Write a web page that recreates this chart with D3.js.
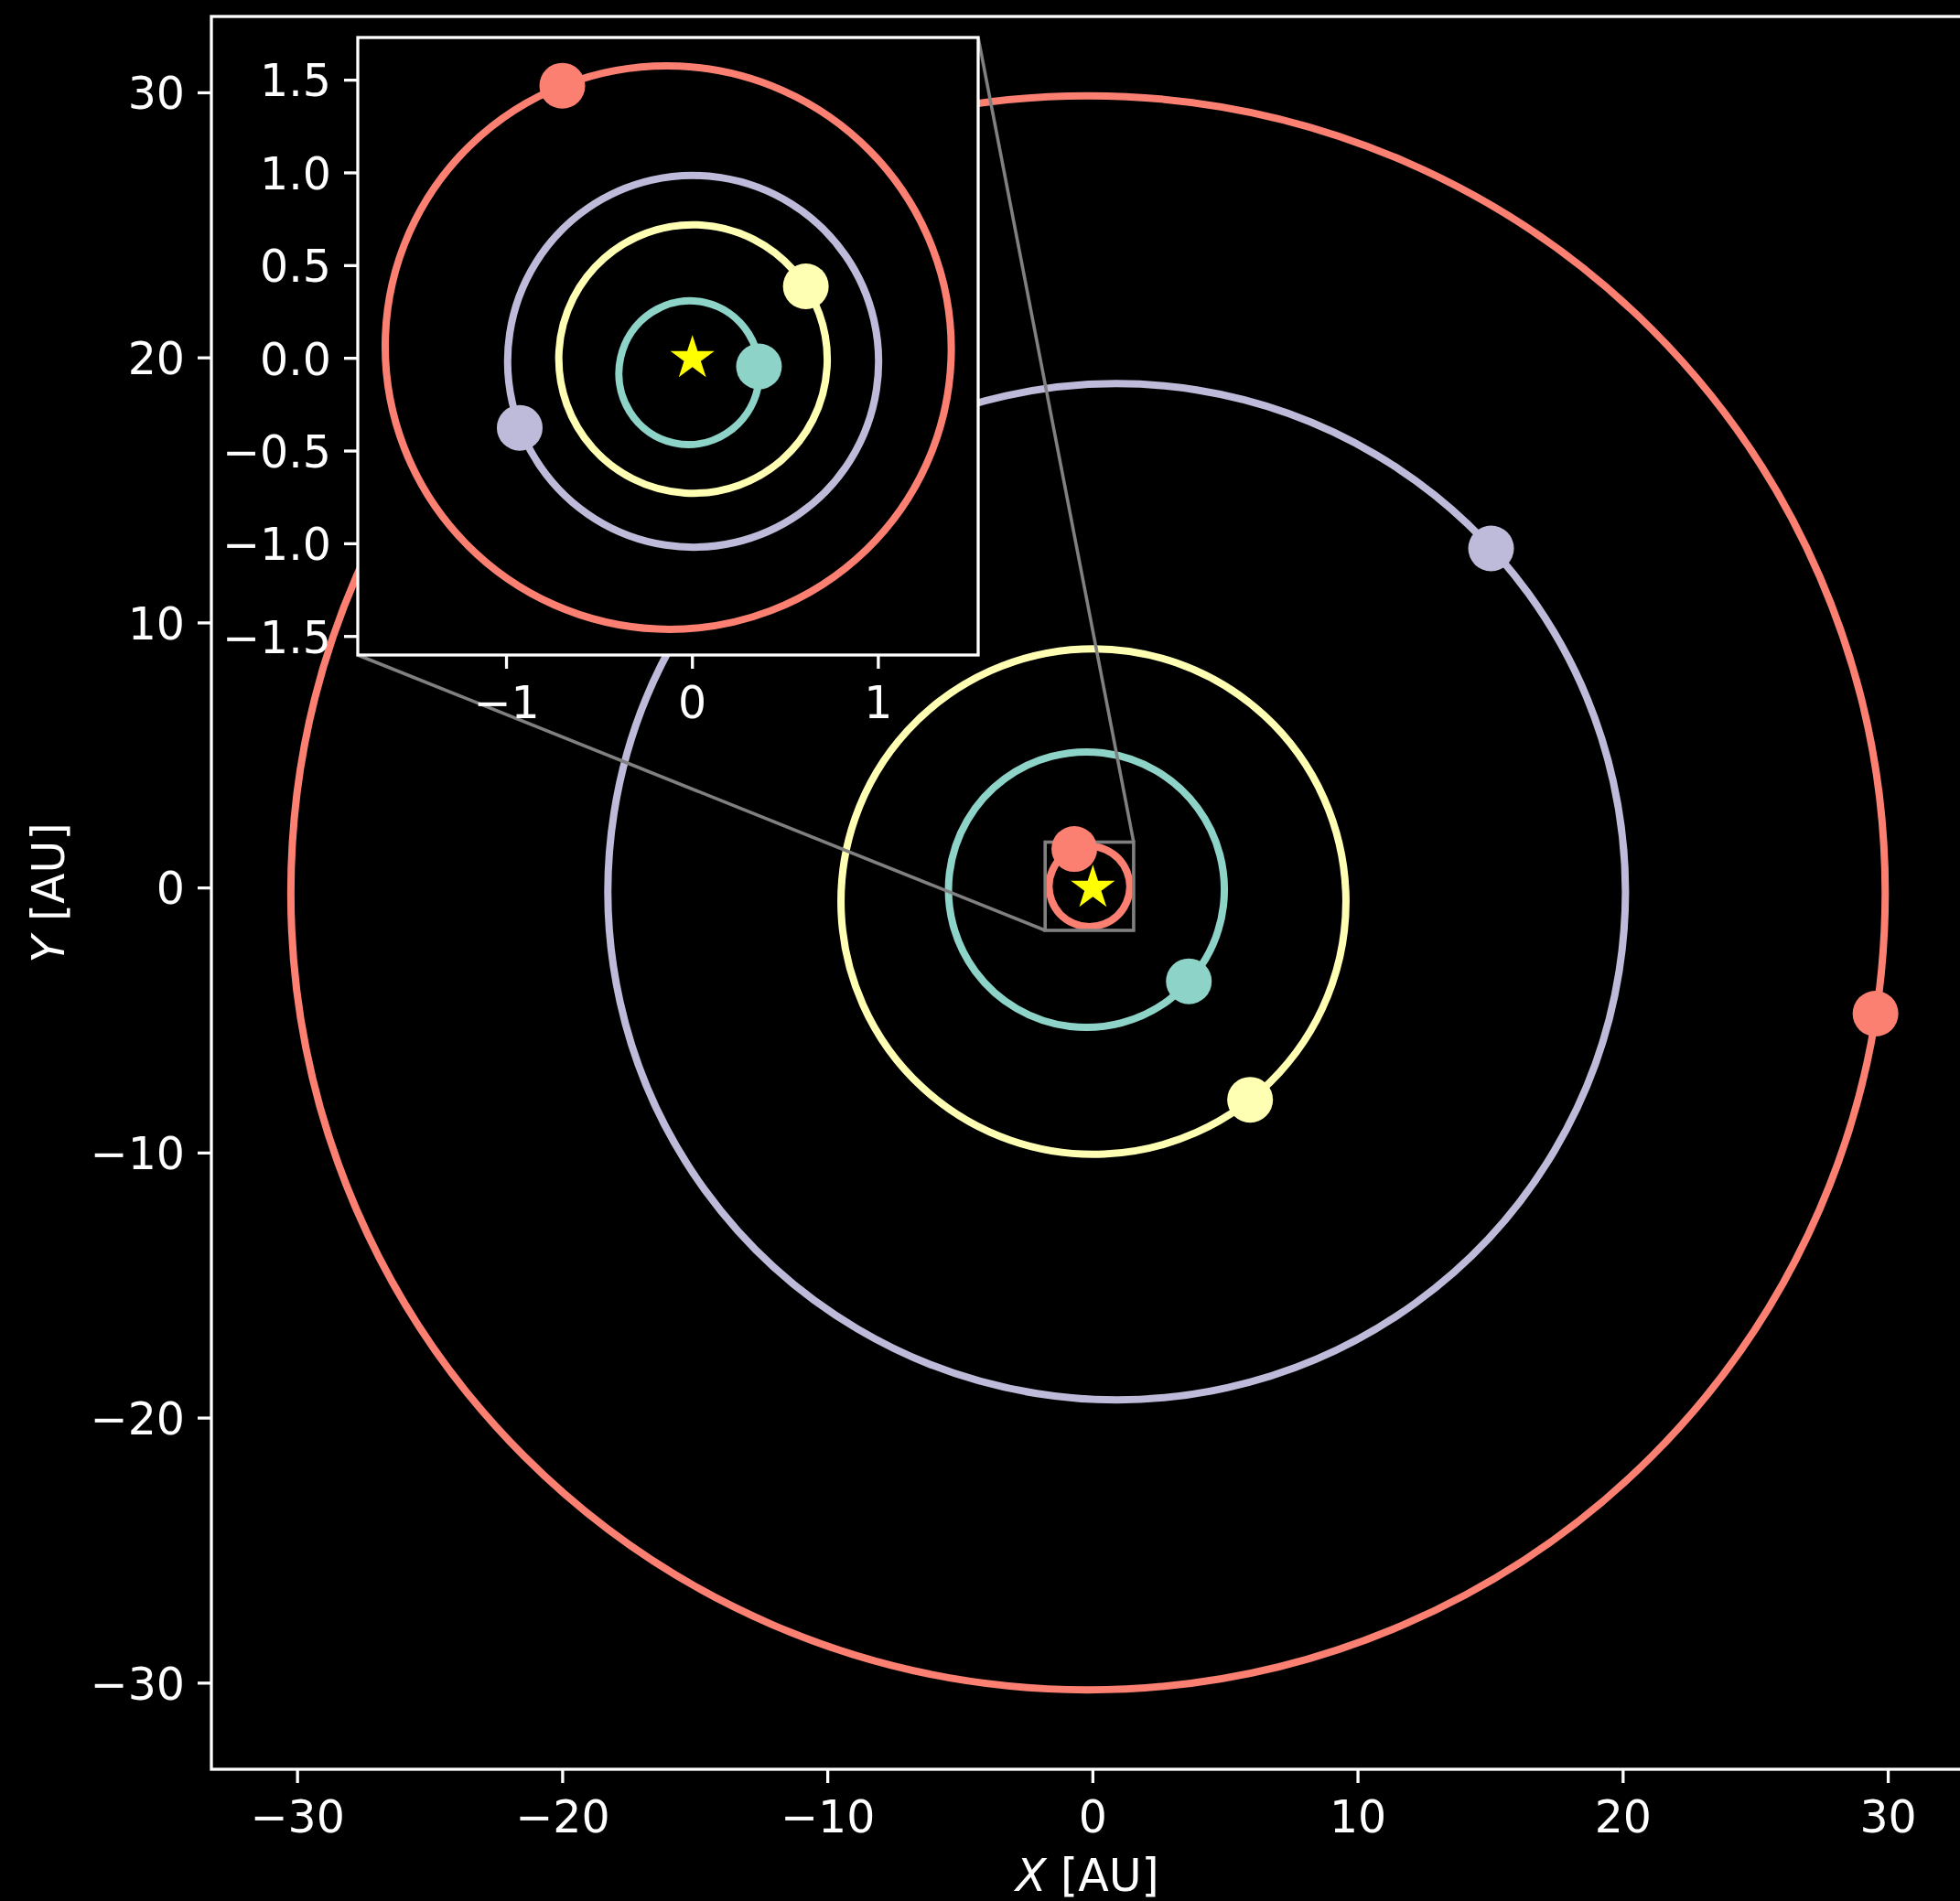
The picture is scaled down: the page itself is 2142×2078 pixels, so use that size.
<!DOCTYPE html>
<html>
<head>
<meta charset="utf-8">
<script src="https://cdn.jsdelivr.net/npm/d3@7"></script>
<style>
  body { margin: 0; background: #000; }
  svg { display: block; }
  text { font-family: "DejaVu Sans", sans-serif; fill: #fff; }
</style>
</head>
<body>
<svg id="chart" width="2142" height="2078"></svg>
<script>
// Orbital elements (2D, ecliptic plane) and current planet positions [AU]
const bodyNames     = ["Mercury", "Venus", "Earth", "Mars", "Jupiter", "Saturn", "Uranus", "Neptune"];
const semiMajor     = [0.387, 0.723, 1.000, 1.524, 5.203, 9.537, 19.19, 30.07];
const eccentricity  = [0.2056, 0.0068, 0.0167, 0.0934, 0.0484, 0.0539, 0.0473, 0.0086];
const perihelionLon = [77.46, 131.53, 102.94, 336.04, 14.75, 92.43, 170.96, 44.97]; // degrees
const planetX       = [0.358, 0.610, -0.929, -0.70, 3.62, 5.93, 15.02, 29.52];
const planetY       = [-0.044, 0.388, -0.375, 1.47, -3.52, -7.99, 12.81, -4.74];
const orbitColors   = ["#8dd3c7", "#ffffb3", "#bebada", "#fb8072", "#8dd3c7", "#ffffb3", "#bebada", "#fb8072"];

const innerBodies = [0, 1, 2, 3];
const outerBodies = [3, 4, 5, 6, 7];

// Axis ranges and ticks
const mainDomain    = [-33.25, 32.88];
const mainTicks     = [-30, -20, -10, 0, 10, 20, 30];
const insetXDomain  = [-1.80, 1.537];
const insetYDomain  = [-1.60, 1.73];
const insetXTicks   = [-1, 0, 1];
const insetYTicks   = [-1.5, -1.0, -0.5, 0.0, 0.5, 1.0, 1.5];

const svg = d3.select("#chart");
const FONT = 49;
const TICK = 15;
const SPINE = 3.3;
const ORBIT_W = 8;
const DOT_R = 25;
const starSize = 720;

svg.append("rect").attr("width", 2142).attr("height", 2078).attr("fill", "#000");

const defs = svg.append("defs");

// Main axes box
const M = { left: 231, top: 18, size: 1916 };
const mx = d3.scaleLinear().domain(mainDomain).range([M.left, M.left + M.size]);
const my = d3.scaleLinear().domain(mainDomain).range([M.top + M.size, M.top]);

// Inset axes box
const I = { left: 391, top: 41, right: 1069, bottom: 716 };
const ix = d3.scaleLinear().domain(insetXDomain).range([I.left, I.right]);
const iy = d3.scaleLinear().domain(insetYDomain).range([I.bottom, I.top]);

defs.append("clipPath").attr("id", "clipMain").append("rect")
  .attr("x", M.left).attr("y", M.top).attr("width", M.size).attr("height", M.size);
defs.append("clipPath").attr("id", "clipInset").append("rect")
  .attr("x", I.left).attr("y", I.top).attr("width", I.right - I.left).attr("height", I.bottom - I.top);

const fmt = v => {
  const s = (Math.abs(v) < 1e-9 ? 0 : v);
  return s < 0 ? "\u2212" + String(Math.abs(s)) : String(s);
};
const fmt1 = v => {
  const s = (Math.abs(v) < 1e-9 ? 0 : v);
  return s < 0 ? "\u2212" + Math.abs(s).toFixed(1) : s.toFixed(1);
};

// Orbit ellipse with the Sun at one focus
function drawOrbits(g, ids, xs, ys) {
  const kx = xs(1) - xs(0), ky = ys(0) - ys(1);
  g.selectAll(null).data(ids).enter().append("ellipse")
    .each(function (i) {
      const a = semiMajor[i], e = eccentricity[i], w = perihelionLon[i] * Math.PI / 180;
      const cx = xs(-a * e * Math.cos(w)), cy = ys(-a * e * Math.sin(w));
      d3.select(this)
        .attr("cx", cx).attr("cy", cy)
        .attr("rx", a * kx).attr("ry", a * Math.sqrt(1 - e * e) * ky)
        .attr("transform", `rotate(${-perihelionLon[i]},${cx},${cy})`);
    })
    .attr("fill", "none")
    .attr("stroke", i => orbitColors[i])
    .attr("stroke-width", ORBIT_W);
}
function drawPlanets(g, ids, xs, ys) {
  g.selectAll(null).data(ids).enter().append("circle")
    .attr("cx", i => xs(planetX[i])).attr("cy", i => ys(planetY[i]))
    .attr("r", DOT_R).attr("fill", i => orbitColors[i]);
}
function drawSun(g, xs, ys) {
  g.append("path")
    .attr("d", d3.symbol(d3.symbolStar, starSize)())
    .attr("transform", `translate(${xs(0)},${ys(0)})`)
    .attr("fill", "#ffff00");
}

// ---- Main axes ----
const mainG = svg.append("g").attr("clip-path", "url(#clipMain)");
drawOrbits(mainG, outerBodies, mx, my);

// zoom indicator rectangle and connectors
const zoomRect = { x0: insetXDomain[0], x1: insetXDomain[1], y0: insetYDomain[0], y1: insetYDomain[1] };
mainG.append("rect")
  .attr("x", mx(zoomRect.x0)).attr("y", my(zoomRect.y1))
  .attr("width", mx(zoomRect.x1) - mx(zoomRect.x0))
  .attr("height", my(zoomRect.y0) - my(zoomRect.y1))
  .attr("fill", "none").attr("stroke", "#808080").attr("stroke-width", 3.6);
mainG.append("line")
  .attr("x1", I.left).attr("y1", I.bottom)
  .attr("x2", mx(zoomRect.x0)).attr("y2", my(zoomRect.y0))
  .attr("stroke", "#808080").attr("stroke-width", 3.6);
mainG.append("line")
  .attr("x1", I.right).attr("y1", I.top)
  .attr("x2", mx(zoomRect.x1)).attr("y2", my(zoomRect.y1))
  .attr("stroke", "#808080").attr("stroke-width", 3.6);

drawPlanets(mainG, outerBodies, mx, my);
drawSun(mainG, mx, my);

// spines
const spines = svg.append("g").attr("stroke", "#fff").attr("stroke-width", SPINE).attr("fill", "none");
spines.append("rect").attr("x", M.left).attr("y", M.top).attr("width", M.size).attr("height", M.size);

// main ticks and labels
const mxt = svg.append("g");
mainTicks.forEach(t => {
  mxt.append("line").attr("x1", mx(t)).attr("x2", mx(t))
    .attr("y1", M.top + M.size).attr("y2", M.top + M.size + TICK)
    .attr("stroke", "#fff").attr("stroke-width", SPINE);
  mxt.append("text").attr("x", mx(t)).attr("y", 2003)
    .attr("text-anchor", "middle").attr("font-size", FONT).text(fmt(t));
  mxt.append("line").attr("y1", my(t)).attr("y2", my(t))
    .attr("x1", M.left - TICK).attr("x2", M.left)
    .attr("stroke", "#fff").attr("stroke-width", SPINE);
  mxt.append("text").attr("x", M.left - TICK - 14).attr("y", my(t) + FONT * 0.364)
    .attr("text-anchor", "end").attr("font-size", FONT).text(fmt(t));
});

// axis titles
const xl = svg.append("text").attr("x", mx(0) - 6).attr("y", 2067)
  .attr("text-anchor", "middle").attr("font-size", FONT);
xl.append("tspan").attr("font-style", "italic").text("X");
xl.append("tspan").text(" [AU]");
const yl = svg.append("text").attr("transform", `translate(70,${(M.top + M.top + M.size) / 2}) rotate(-90)`)
  .attr("text-anchor", "middle").attr("font-size", FONT);
yl.append("tspan").attr("font-style", "italic").text("Y");
yl.append("tspan").text(" [AU]");

// ---- Inset axes ----
svg.append("rect").attr("x", I.left).attr("y", I.top)
  .attr("width", I.right - I.left).attr("height", I.bottom - I.top).attr("fill", "#000");
const insetG = svg.append("g").attr("clip-path", "url(#clipInset)");
drawOrbits(insetG, innerBodies, ix, iy);
drawPlanets(insetG, innerBodies, ix, iy);
drawSun(insetG, ix, iy);

svg.append("rect").attr("x", I.left).attr("y", I.top)
  .attr("width", I.right - I.left).attr("height", I.bottom - I.top)
  .attr("fill", "none").attr("stroke", "#fff").attr("stroke-width", SPINE);

const it = svg.append("g");
insetXTicks.forEach(t => {
  it.append("line").attr("x1", ix(t)).attr("x2", ix(t))
    .attr("y1", I.bottom).attr("y2", I.bottom + TICK)
    .attr("stroke", "#fff").attr("stroke-width", SPINE);
  it.append("text").attr("x", ix(t)).attr("y", I.bottom + 69)
    .attr("text-anchor", "middle").attr("font-size", FONT).text(fmt(t));
});
insetYTicks.forEach(t => {
  it.append("line").attr("y1", iy(t)).attr("y2", iy(t))
    .attr("x1", I.left - TICK).attr("x2", I.left)
    .attr("stroke", "#fff").attr("stroke-width", SPINE);
  it.append("text").attr("x", I.left - TICK - 14).attr("y", iy(t) + FONT * 0.364)
    .attr("text-anchor", "end").attr("font-size", FONT).text(fmt1(t));
});
</script>
</body>
</html>
